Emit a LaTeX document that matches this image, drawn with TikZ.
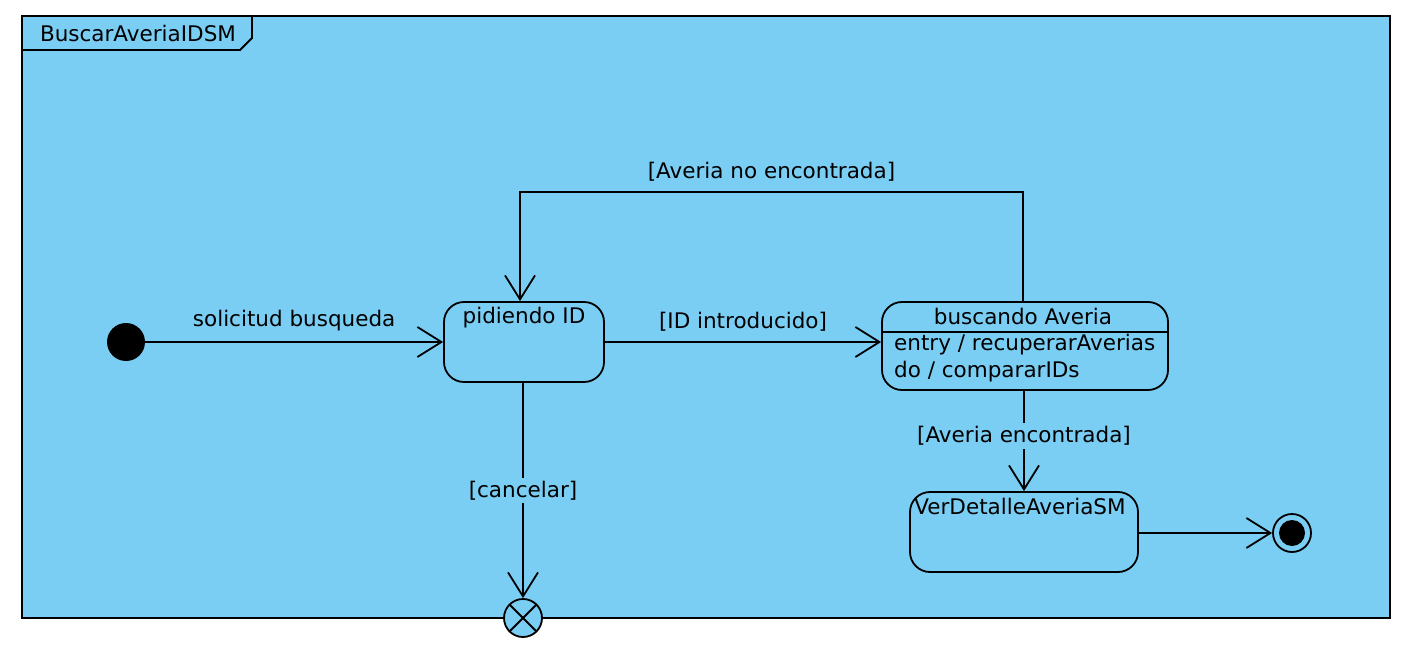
\documentclass[tikz,border=0pt]{standalone}
\usepackage{fontspec}
\setmainfont{DejaVu Sans}
\usetikzlibrary{arrows.meta}
\definecolor{umlblue}{RGB}{122,206,244}
\tikzset{
  every node/.style={font=\fontsize{21.5}{27}\selectfont, inner sep=0pt},
  statebox/.style={draw, line width=1.8pt, rounded corners=20pt, fill=umlblue},
  conn/.style={line width=1.8pt, -{Straight Barb[length=24pt,width=30pt,line width=1.8pt]}},
  plain/.style={line width=1.8pt},
  lbl/.style={fill=umlblue, inner sep=3pt},
}
\begin{document}
\begin{tikzpicture}[x=1pt,y=-1pt]
\useasboundingbox (0,0) rectangle (1414,650);
% frame
\draw[line width=1.8pt, fill=umlblue] (22,16) rectangle (1390,618);
\draw[line width=1.8pt] (22,50) -- (240,50) -- (252,38) -- (252,16);
\node (title) at (138,33) {BuscarAveriaIDSM};
% states
\node[statebox, minimum width=160pt, minimum height=80pt] (pid) at (524,342) {};
\node (pidt) at (524,318) {pidiendo ID};
\node[statebox, minimum width=286pt, minimum height=88pt] (bus) at (1025,346) {};
\node (bust) at (1023,316) {buscando Averia};
\draw[plain] ([yshift=-31pt]bus.north west) -- ([yshift=-31pt]bus.north east);
\node[anchor=west] (busa1) at (894,345) {entry / recuperarAverias};
\node[anchor=west] (busa2) at (894,372) {do / compararIDs};
\node[statebox, minimum width=228pt, minimum height=80pt] (ver) at (1024,532) {};
\node (vert) at (1020,506) {VerDetalleAveriaSM};
% pseudo states
\node[circle, fill=black, minimum size=38pt] (init) at (126,342) {};
\node[circle, draw, line width=1.8pt, minimum size=38pt] (fin) at (1292,533) {};
\node[circle, fill=black, minimum size=26pt] (finin) at (1292,533) {};
\node[circle, draw, line width=1.8pt, fill=umlblue, minimum size=38pt] (term) at (523,618) {};
\draw[plain] ([shift={(-13.4,-13.4)}]term.center) -- ([shift={(13.4,13.4)}]term.center);
\draw[plain] ([shift={(-13.4,13.4)}]term.center) -- ([shift={(13.4,-13.4)}]term.center);
% transitions
\draw[conn] (init) -- node[above=10pt] {solicitud busqueda} (pid.west);
\draw[conn] (pid.east) -- node[above=10pt] {[ID introducido]} (bus.west |- pid.east);
\coordinate (c1) at (1023,192);
\coordinate (c2) at (520,192);
\draw[conn] (bus.north -| c1) -- (c1) -- node[above=10pt] {[Averia no encontrada]} (c2) -- (pid.north -| c2);
\draw[conn] (bus.south -| ver.north) -- node[lbl, pos=0.45] {[Averia encontrada]} (ver.north);
\draw[conn] (ver.east |- fin) -- (fin.west);
\draw[conn] (pid.south -| term) -- node[lbl, pos=0.5] {[cancelar]} (term.north);
\end{tikzpicture}
\end{document}
